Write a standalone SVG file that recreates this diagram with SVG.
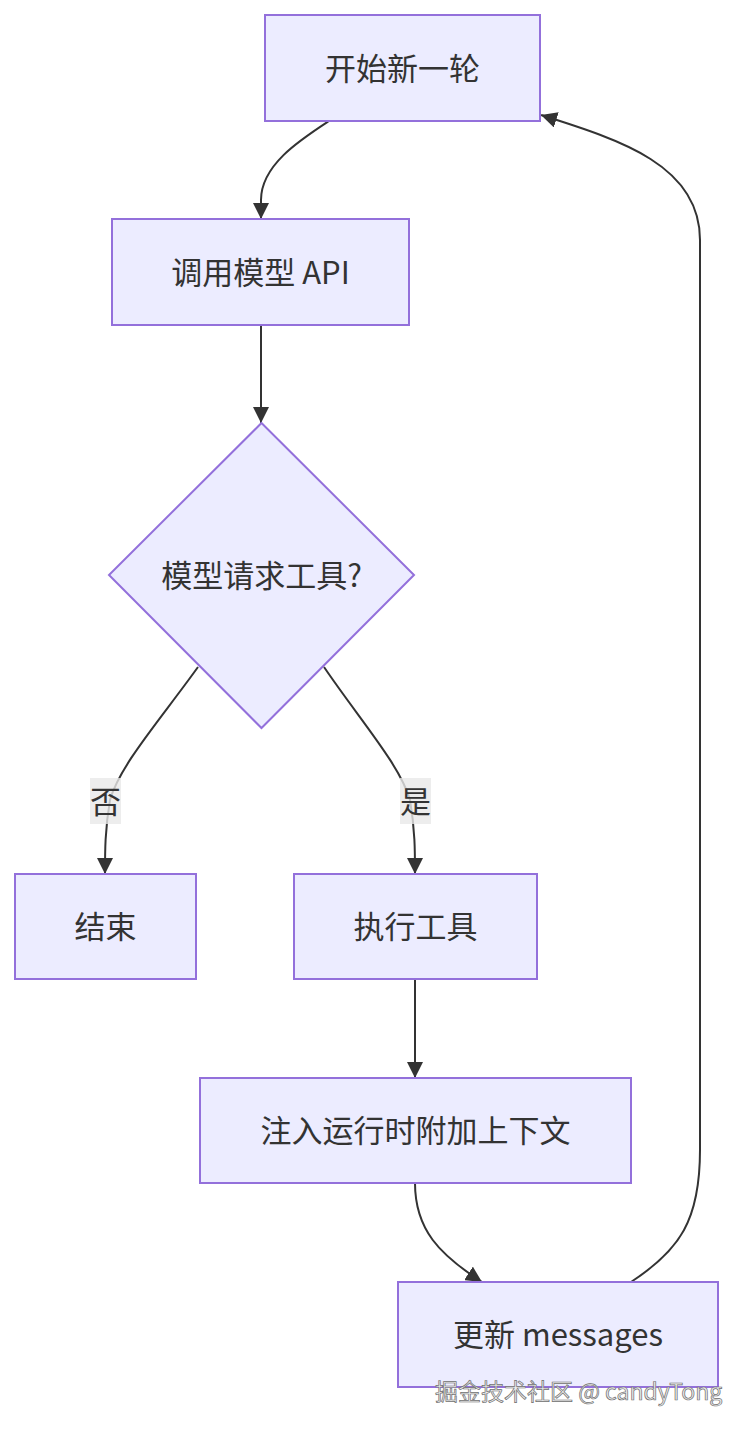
<svg xmlns="http://www.w3.org/2000/svg" width="750" height="1432" viewBox="0 0 750 1432">
<defs>
<style>
.node{fill:#ECECFF;stroke:#9370DB;stroke-width:2}
.lbl{font-family:"Noto Sans CJK SC","Noto Sans",sans-serif;font-size:31px;fill:#333;text-anchor:middle;dominant-baseline:central}
.edge{fill:none;stroke:#333;stroke-width:2}
.ebg{fill:#e8e8e8;opacity:0.8}
.wm{font-family:"Noto Sans CJK SC","Noto Sans",sans-serif;font-size:23px;fill:#ececec;stroke:#6f6f6f;stroke-width:0.7}
</style>
<marker id="arr" markerUnits="userSpaceOnUse" markerWidth="16" markerHeight="16" viewBox="0 0 10 10" refX="10" refY="5" orient="auto">
<path d="M0,0 L10,5 L0,10 z" fill="#333"/>
</marker>
</defs>
<g id="edges">
<path class="edge" marker-end="url(#arr)" d="M329,121 C300,140 261,165 261,200 L261,219"/>
<path class="edge" marker-end="url(#arr)" d="M261,325 L261,423"/>
<path class="edge" marker-end="url(#arr)" d="M198,667 C160,720 120,765 110,800 C105,830 105,850 105,874"/>
<path class="edge" marker-end="url(#arr)" d="M324,667 C360,720 400,765 410,800 C415,830 415,850 415,874"/>
<path class="edge" marker-end="url(#arr)" d="M415,979 L415,1078"/>
<path class="edge" marker-end="url(#arr)" d="M415,1183 C415,1230 440,1255 482,1282"/>
<path class="edge" marker-end="url(#arr)" d="M631,1282 C680,1250 700,1220 700,1150 L700,240 C700,165 620,140 541,115"/>
</g>
<g id="edge-labels">
<rect class="ebg" x="90" y="778" width="31" height="46"/>
<text class="lbl" x="105.5" y="799">否</text>
<rect class="ebg" x="400" y="778" width="31" height="46"/>
<text class="lbl" x="415.5" y="799">是</text>
</g>
<g id="n-start">
<rect class="node" x="265" y="15" width="275" height="106"/>
<text class="lbl" x="402.5" y="66">开始新一轮</text>
</g>
<g id="n-call">
<rect class="node" x="112" y="219" width="297" height="106"/>
<text class="lbl" x="260.5" y="270">调用模型 API</text>
</g>
<g id="n-decide">
<polygon class="node" points="261.5,423 414,575 261.5,728 109,575"/>
<text class="lbl" x="261.5" y="573">模型请求工具?</text>
</g>
<g id="n-end">
<rect class="node" x="15" y="874" width="181" height="105"/>
<text class="lbl" x="105.5" y="924">结束</text>
</g>
<g id="n-exec">
<rect class="node" x="294" y="874" width="243" height="105"/>
<text class="lbl" x="415.5" y="924">执行工具</text>
</g>
<g id="n-inject">
<rect class="node" x="200" y="1078" width="431" height="105"/>
<text class="lbl" x="415.5" y="1128">注入运行时附加上下文</text>
</g>
<g id="n-update">
<rect class="node" x="398" y="1282" width="320" height="105"/>
<text class="lbl" x="558" y="1332">更新 messages</text>
</g>
<text class="wm" x="435" y="1400">掘金技术社区 @ candyTong</text>
</svg>
